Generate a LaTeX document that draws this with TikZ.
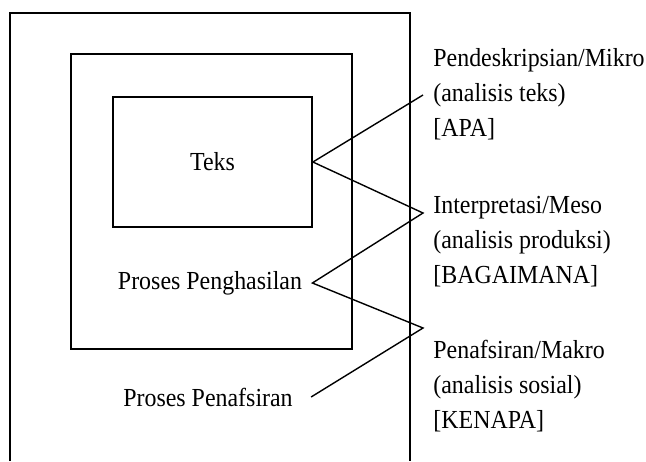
\documentclass[tikz,border=0pt]{standalone}
\usepackage{fontspec}
\setmainfont{Liberation Serif}[FakeStretch=0.92]

\begin{document}
\begin{tikzpicture}[x=0.5pt, y=-0.5pt, font=\fontsize{13}{17.5}\selectfont,
    kotak/.style={line width=0.9pt},
    garis/.style={line width=0.7pt},
    proses/.style={inner sep=0pt, inner xsep=5pt},
    tingkat/.style={align=left, anchor=west, inner sep=0pt}]
  \useasboundingbox (0,0) rectangle (646,461);

  % kotak luar (terpotong di bawah) dan kotak tengah
  \draw[kotak] (10,461) -- (10,13) -- (410,13) -- (410,461);
  \draw[kotak] (71,54) rectangle (352,349);
  \node[draw, kotak, minimum width=99.5pt, minimum height=65pt, inner sep=0pt] (teks) at (212.5,162) {Teks};

  \node[proses] (hasil) at (210,283) {Proses Penghasilan};
  \node[proses, inner xsep=9pt] (tafsir) at (208,397) {Proses Penafsiran};

  % tiga tingkat analisis (kanan)
  \node[tingkat] (mikro) at (433,94) {Pendeskripsian/Mikro\\(analisis teks)\\{[APA]}};
  \node[tingkat] (meso) at (433,242) {Interpretasi/Meso\\(analisis produksi)\\{[BAGAIMANA]}};
  \node[tingkat] (makro) at (433,386) {Penafsiran/Makro\\(analisis sosial)\\{[KENAPA]}};

  \coordinate (ujung1) at (423,95);
  \coordinate (ujung2) at (423,213);
  \coordinate (ujung3) at (423,328);

  \draw[garis] (ujung1) -- (teks.east) -- (ujung2) -- (hasil.east) -- (ujung3) -- (tafsir.east);
\end{tikzpicture}
\end{document}
